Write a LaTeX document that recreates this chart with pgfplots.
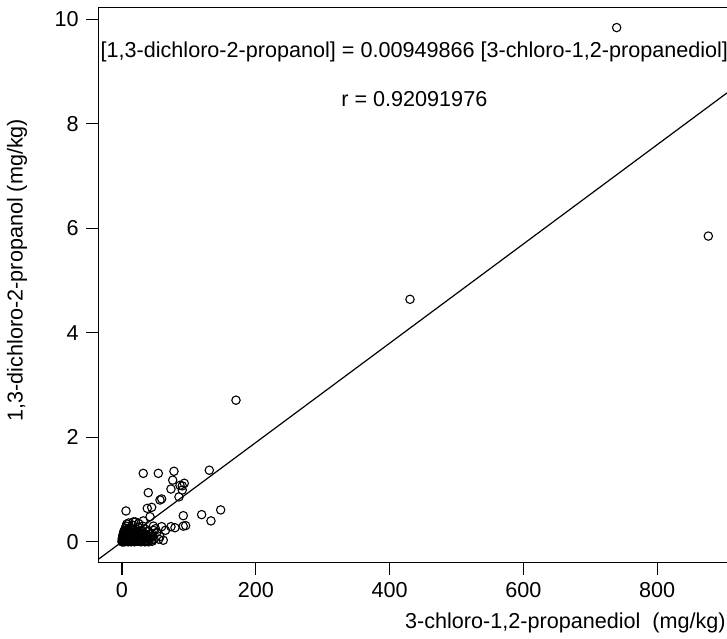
\documentclass[border=0pt]{standalone}
\usepackage{fontspec}
\setmainfont{Liberation Sans}
\usepackage{pgfplots}
\pgfplotsset{compat=1.18}

\pgfplotstableread{
x y
0.0 0.00
0.2 0.05
0.5 0.01
0.8 0.08
1.0 0.02
1.2 0.12
1.5 0.00
2.0 0.03
2.2 0.15
2.5 0.05
3.0 0.01
3.2 0.18
3.5 0.08
3.8 0.00
4.0 0.02
4.2 0.22
4.5 0.04
5.0 0.10
5.2 0.26
5.5 0.06
6.0 0.01
6.2 0.30
6.5 0.12
7.0 0.03
7.2 0.34
7.5 0.07
8.0 0.15
8.5 0.02
9.0 0.09
9.2 0.00
9.5 0.05
10.0 0.18
10.0 0.36
10.5 0.01
11.0 0.11
12.0 0.04
12.0 0.27
12.5 0.20
13.0 0.08
13.5 0.00
14.0 0.13
14.5 0.02
15.0 0.06
16.0 0.22
16.0 0.32
16.5 0.10
16.9 0.38
17.0 0.03
18.0 0.16
18.5 0.00
19.0 0.07
20.0 0.25
20.0 0.38
20.5 0.12
21.0 0.01
22.0 0.19
23.0 0.05
23.5 0.01
24.0 0.28
25.0 0.09
25.0 0.35
26.0 0.14
27.0 0.02
28.0 0.21
28.5 0.00
29.0 0.06
30.0 0.11
31.0 0.30
31.8 0.40
32.0 0.17
33.0 0.04
33.5 0.01
34.0 0.08
34.4 0.00
35.0 0.24
36.0 0.13
37.0 0.02
38.0 0.19
40.0 0.07
42.0 0.15
44.0 0.03
44.4 0.16
46.0 0.10
46.8 0.22
47.0 0.30
48.0 0.05
50.0 0.25
52.0 0.18
55.0 0.05
1.8 0.10
2.8 0.20
4.8 0.14
6.8 0.18
8.8 0.24
11.5 0.06
13.8 0.16
15.5 0.24
17.5 0.12
19.5 0.20
21.5 0.08
22.5 0.14
24.5 0.18
26.5 0.06
27.5 0.12
29.5 0.16
30.5 0.02
32.5 0.10
34.5 0.14
36.5 0.06
38.5 0.10
39.5 0.00
41.0 0.04
43.0 0.09
45.0 0.01
9.8 0.13
14.8 0.09
18.8 0.04
24.8 0.01
29.8 0.22
56.8 0.10
59.3 0.29
61.7 0.03
65.0 0.22
73.2 0.29
79.2 0.27
91.6 0.30
95.2 0.31
6.0 0.59
37.8 0.64
44.4 0.66
41.9 0.48
39.3 0.94
56.8 0.80
59.3 0.82
85.2 0.86
73.2 1.01
90.1 0.99
90.1 1.07
86.7 1.08
93.1 1.12
75.8 1.18
31.8 1.31
54.3 1.31
77.7 1.35
130.5 1.37
147.5 0.61
119.1 0.52
91.6 0.50
133.0 0.40
170.4 2.71
430.5 4.64
739.4 9.84
876.4 5.85
}\samples

\begin{document}
\fontsize{10.8}{13}\selectfont
\begin{tikzpicture}
\path[use as bounding box] (-49.15pt,-37.65pt) rectangle (314.35pt,281.35pt);
\begin{axis}[
  at={(0,0)}, anchor=south west,
  scale only axis, width=314.35pt, height=277.5pt,
  xmin=-35.4, xmax=904.3, ymin=-0.40, ymax=10.22,
  axis x line=box, axis y line=left,
  axis line style={-, line width=0.6pt, black},
  xtick={0,200,400,600,800}, ytick={0,2,4,6,8,10},
  xtick pos=left, ytick pos=left,
  tick align=outside, major tick length=6pt,
  tick style={line width=0.6pt, black},
  /pgf/number format/assume math mode=true,
  tick label style={font=\fontsize{10.8}{13}\selectfont},
  clip=false]
\addplot[black, line width=0.6pt] coordinates {(-35.4,-0.3363) (904.3,8.5896)};
\addplot[only marks, mark=o, mark size=2.1pt, black, mark options={line width=0.55pt}] table[x=x, y=y] {\samples};
\node[anchor=center] at (axis cs:437,9.37) {[1,3-dichloro-2-propanol] = 0.00949866 [3-chloro-1,2-propanediol]};
\node[anchor=center] at (axis cs:437,8.47) {r = 0.92091976};
\node[anchor=base east, inner sep=0pt] at (axis cs:903,-1.65) {3-chloro-1,2-propanediol\ \ (mg/kg)};
\node[rotate=90, anchor=center] at (axis cs:-156.9,5.20) {1,3-dichloro-2-propanol (mg/kg)};
\end{axis}
\end{tikzpicture}
\end{document}
